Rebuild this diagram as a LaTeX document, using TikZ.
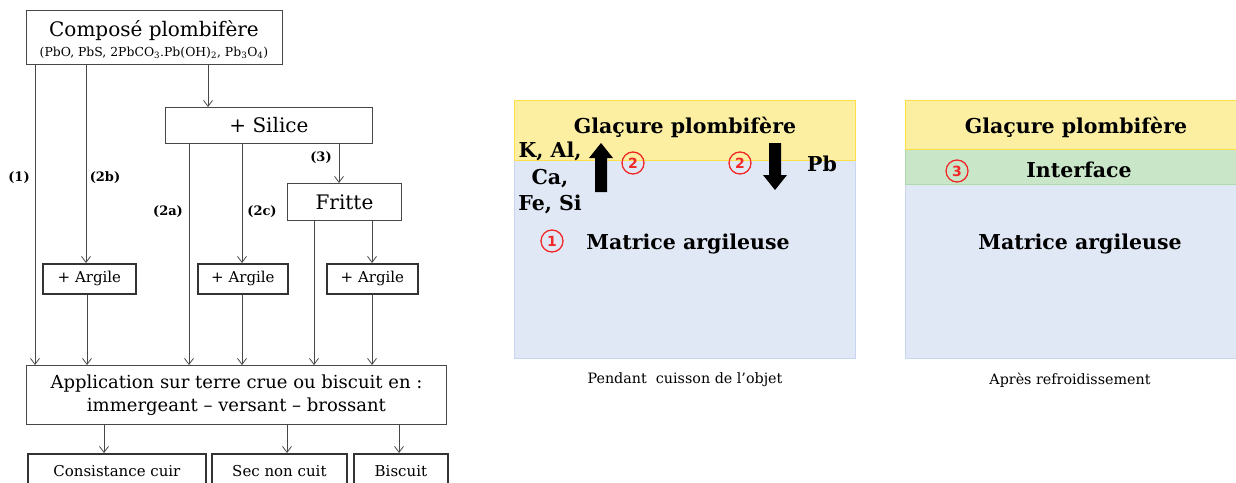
\documentclass[tikz,border=0pt]{standalone}
\usepackage{fontspec}
\setmainfont{DejaVu Serif}
\setsansfont{DejaVu Sans}
\usetikzlibrary{arrows.meta}
\definecolor{lnc}{HTML}{474747}
\definecolor{yelf}{HTML}{FCEFA2}
\definecolor{yeld}{HTML}{FFE04A}
\definecolor{bluf}{HTML}{E1E8F5}
\definecolor{blud}{HTML}{C8D6EF}
\definecolor{grnf}{HTML}{C9E7C8}
\definecolor{grnd}{HTML}{AEDAAE}
\definecolor{redc}{HTML}{F02828}
\tikzset{
  box/.style={draw=lnc, line width=0.9pt, fill=white, inner sep=0pt, anchor=north west, align=center},
  thickbox/.style={box, draw=black!80, line width=1.8pt},
  arr/.style={draw=lnc, line width=0.8pt, -{Straight Barb[length=6pt,width=9pt]}},
  lab/.style={font=\bfseries\fontsize{13}{15}\selectfont, inner sep=0pt},
  big/.style={font=\fontsize{20}{24}\selectfont},
  mid/.style={font=\fontsize{15}{18}\selectfont},
  txt/.style={inner sep=0pt},
  bold/.style={font=\bfseries\fontsize{20.5}{26.5}\selectfont, inner sep=0pt},
  caption/.style={font=\fontsize{14.3}{16}\selectfont, inner sep=0pt},
  num/.style={circle, draw=redc, line width=1.3pt, text=redc, minimum size=22pt, inner sep=0pt, font=\sffamily\bfseries\fontsize{14}{14}\selectfont},
  layer/.style={line width=1pt},
}
\begin{document}
\begin{tikzpicture}[x=1pt,y=-1pt]
\useasboundingbox (0,0) rectangle (1236,482);
\clip (0,0) rectangle (1236,482);
% ---------- left flowchart ----------
\node[box, minimum width=256pt, minimum height=54pt] (top) at (26,10) {};
\node[txt, big] (topt) at (154,31) {Composé plombifère};
\node[txt, font=\fontsize{12.4}{14}\selectfont] (topf) at (154,53)
  {(PbO, PbS, 2PbCO\textsubscript{3}.Pb(OH)\textsubscript{2}, Pb\textsubscript{3}O\textsubscript{4})};
\node[box, big, minimum width=207pt, minimum height=36pt] (sil) at (165,107) {+ Silice};
\node[box, big, minimum width=114pt, minimum height=37pt] (fri) at (287,183) {Fritte};
\node[thickbox, mid, minimum width=93pt, minimum height=30pt] (ar1) at (42,263) {+ Argile};
\node[thickbox, mid, minimum width=90pt, minimum height=30pt] (ar2) at (197,263) {+ Argile};
\node[thickbox, mid, minimum width=91pt, minimum height=30pt] (ar3) at (326,263) {+ Argile};
\node[box, minimum width=420pt, minimum height=59pt, font=\fontsize{18}{23}\selectfont] (app) at (26,365)
  {Application sur terre crue ou biscuit en :\\immergeant -- versant -- brossant};
\node[thickbox, mid, minimum width=178pt, minimum height=34pt] (b1) at (27,453) {Consistance cuir};
\node[thickbox, mid, minimum width=135pt, minimum height=34pt] (b2) at (211,453) {Sec non cuit};
\node[thickbox, mid, minimum width=94pt, minimum height=34pt] (b3) at (353,453) {Biscuit};
% connector columns
\coordinate (x1) at (35,0);
\coordinate (x2b) at (86,0);
\coordinate (x2bb) at (87,0);
\coordinate (xs) at (208,0);
\coordinate (x2a) at (189,0);
\coordinate (x2c) at (242,0);
\coordinate (x3) at (339,0);
\coordinate (xf1) at (314,0);
\coordinate (xf2) at (372,0);
\coordinate (xo1) at (104,0);
\coordinate (xo2) at (287,0);
\coordinate (xo3) at (399,0);
\draw[arr] (top.south -| x1) -- (app.north -| x1);
\draw[arr] (top.south -| x2b) -- (ar1.north -| x2b);
\draw[arr] (top.south -| xs) -- (sil.north -| xs);
\draw[arr] (sil.south -| x2a) -- (app.north -| x2a);
\draw[arr] (sil.south -| x2c) -- (ar2.north -| x2c);
\draw[arr] (sil.south -| x3) -- (fri.north -| x3);
\draw[arr] (fri.south -| xf1) -- (app.north -| xf1);
\draw[arr] (fri.south -| xf2) -- (ar3.north -| xf2);
\draw[arr] (ar1.south -| x2bb) -- (app.north -| x2bb);
\draw[arr] (ar2.south -| x2c) -- (app.north -| x2c);
\draw[arr] (ar3.south -| xf2) -- (app.north -| xf2);
\draw[arr] (app.south -| xo1) -- (b1.north -| xo1);
\draw[arr] (app.south -| xo2) -- (b2.north -| xo2);
\draw[arr] (app.south -| xo3) -- (b3.north -| xo3);
\node[lab] (l1) at (19,178) {(1)};
\node[lab] (l2b) at (105,178) {(2b)};
\node[lab] (l2a) at (168,212) {(2a)};
\node[lab] (l2c) at (262,212) {(2c)};
\node[lab] (l3) at (321,158) {(3)};
% ---------- right panel 1 ----------
\filldraw[layer, fill=bluf, draw=blud] (514,160) rectangle (855,358);
\filldraw[layer, fill=yelf, draw=yeld] (514,100) rectangle (855,160);
\node[bold] (g1) at (685,127) {Glaçure plombifère};
\node[bold, align=center] (el) at (550,178) {K, Al,\\Ca,\\Fe, Si};
\fill[black] (601,143) -- (613,158) -- (607,158) -- (607,192) -- (595,192) -- (595,158) -- (589,158) -- cycle;
\fill[black] (775,190) -- (787,175) -- (781,175) -- (781,143) -- (769,143) -- (769,175) -- (763,175) -- cycle;
\node[num] (n2a) at (633,163) {2};
\node[num] (n2b) at (740,163) {2};
\node[bold] (pb) at (822,164) {Pb};
\node[num] (n1) at (552,241) {1};
\node[bold] (m1) at (688,244) {Matrice argileuse};
\node[caption] (c1) at (685,380) {Pendant\ \ cuisson de l'objet};
% ---------- right panel 2 ----------
\filldraw[layer, fill=bluf, draw=blud] (905,184) rectangle (1245,358);
\filldraw[layer, fill=grnf, draw=grnd] (905,149) rectangle (1245,184);
\filldraw[layer, fill=yelf, draw=yeld] (905,100) rectangle (1245,149);
\node[bold] (g2) at (1076,127) {Glaçure plombifère};
\node[num] (n3) at (957,171) {3};
\node[bold] (int) at (1079,170) {Interface};
\node[bold] (m2) at (1080,244) {Matrice argileuse};
\node[caption] (c2) at (1070,380) {Après refroidissement};
\end{tikzpicture}
\end{document}
